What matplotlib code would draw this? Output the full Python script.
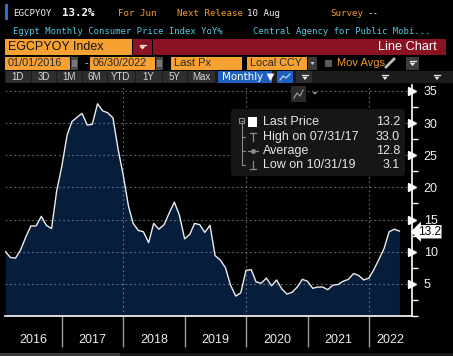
import matplotlib
matplotlib.use('Agg')
import matplotlib.pyplot as plt
import pandas as pd
from matplotlib.patches import Rectangle, Polygon, FancyBboxPatch
from matplotlib.transforms import blended_transform_factory

# ---------------- data ----------------
dates = pd.date_range('2016-01-31', '2022-06-30', freq='ME')
values = [
    10.0, 9.1, 9.0, 10.3, 12.3, 14.0, 14.0, 15.5, 14.1, 13.6, 19.4, 23.3,   # 2016
    28.1, 30.2, 30.9, 31.5, 29.7, 29.8, 33.0, 31.9, 31.6, 30.8, 26.0, 21.9, # 2017
    17.1, 14.4, 13.3, 13.1, 11.4, 14.4, 13.5, 14.2, 16.0, 17.7, 15.7, 12.0, # 2018
    12.7, 14.4, 14.2, 13.0, 14.1, 9.4, 8.7, 7.5, 4.8, 3.1, 3.6, 7.1,       # 2019
    7.2, 5.3, 5.1, 5.9, 4.7, 5.6, 4.2, 3.4, 3.7, 4.5, 5.7, 5.4,            # 2020
    4.3, 4.5, 4.5, 4.1, 4.8, 4.9, 5.4, 5.7, 6.6, 6.3, 5.6, 5.9,            # 2021
    7.3, 8.8, 10.5, 13.1, 13.5, 13.2,                                      # 2022
]
year_labels = ['2016', '2017', '2018', '2019', '2020', '2021', '2022']
y_ticks = [5, 10, 15, 20, 25, 30, 35]
legend_labels = ['Last Price', 'High on 07/31/17', 'Average', 'Low on 10/31/19']
legend_values = ['13.2', '33.0', '12.8', '3.1']

W, H = 453, 356
fig = plt.figure(figsize=(W / 100, H / 100), dpi=100, facecolor='black')

# ---------------- chart axes ----------------
L_PX, R_PX, T_PX, B_PX = 5, 412, 84.5, 316
ax = fig.add_axes([L_PX / W, (H - B_PX) / H, (R_PX - L_PX) / W, (B_PX - T_PX) / H])
ax.set_facecolor('black')
xmin = pd.Timestamp('2016-01-28')
xmax = pd.Timestamp('2022-09-13')
ax.set_xlim(xmin, xmax)
ax.set_ylim(0, 36)

navy = '#061e3c'
ax.fill_between(dates, values, 0, color=navy, lw=0, zorder=2)
ax.plot(dates, values, color='#ececec', lw=1.0, zorder=4)

grid_kw = dict(color='#a0a8b4', lw=0.8, dashes=(1.6, 2.4), alpha=0.6, zorder=3)
for yv in y_ticks:
    ax.axhline(yv, **grid_kw)
for yr in ['2018-01-01', '2020-01-01', '2022-01-01']:
    ax.axvline(pd.Timestamp(yr), **grid_kw)

for s in ['top', 'left']:
    ax.spines[s].set_visible(False)
ax.spines['bottom'].set_color('white')
ax.spines['bottom'].set_linewidth(1.2)
ax.spines['right'].set_color('white')
ax.spines['right'].set_linewidth(1.2)

# x ticks: year separators below axis
year_starts = [pd.Timestamp(f'{y}-01-01') for y in range(2017, 2023)]
ax.set_xticks(year_starts)
ax.set_xticklabels([])
ax.tick_params(axis='x', length=22, width=1, color='#9a9a9a', direction='out')
bounds = [xmin] + year_starts + [xmax]
trx = blended_transform_factory(ax.transData, ax.transAxes)
for i, lab in enumerate(year_labels):
    mid = bounds[i] + (bounds[i + 1] - bounds[i]) / 2
    ax.text(mid, -0.103, lab, transform=trx, ha='center', va='center',
            color='#e8ecf2', fontsize=9, family='Liberation Sans')

# y axis on right
ax.yaxis.tick_right()
ax.set_yticks(y_ticks)
ax.set_yticklabels([str(t) for t in y_ticks], color='#eef2f8', fontsize=9,
                   family='Liberation Sans')
ax.tick_params(axis='y', which='major', length=0, pad=8.5)
ax.set_yticks([0, 2.5, 7.5, 12.5, 17.5, 22.5, 27.5, 32.5], minor=True)
ax.tick_params(axis='y', which='minor', length=4, width=1, color='white', direction='out')
try_ = blended_transform_factory(ax.transAxes, ax.transData)
ax.plot([1.0] * len(y_ticks), y_ticks, transform=try_, ls='none', marker='>',
        ms=6, color='white', mec='white', clip_on=False, zorder=6)

# last value tag
ax.text(1.014, values[-1] - 0.1, '13.2', transform=try_, ha='left', va='center',
        fontsize=8.6, color='black', family='Liberation Sans',
        bbox=dict(boxstyle='larrow,pad=0.06', fc='white', ec='none'), zorder=7)

# ---------------- overlay for header / legend ----------------
ov = fig.add_axes([0, 0, 1, 1], zorder=10)
ov.set_xlim(0, W)
ov.set_ylim(H, 0)
ov.axis('off')
ov.patch.set_alpha(0)


def rect(x0, y0, x1, y1, c, **kw):
    ov.add_patch(Rectangle((x0, y0), x1 - x0, y1 - y0, fc=c, ec='none', **kw))


def dropdown(cx, cy, c='#e6e6e6', s=3.0):
    ov.plot([cx - s, cx + s], [cy - 2.2, cy - 2.2], color=c, lw=0.9)
    ov.add_patch(Polygon([(cx - s, cy - 0.8), (cx + s, cy - 0.8), (cx, cy + 2.6)],
                         closed=True, fc=c, ec='none'))


mono = 'DejaVu Sans Mono'
sans = 'Liberation Sans'
orange_t = '#f59a2a'
cyan_t = '#55cbe0'
mfs = 6.4

# row 1
rect(5, 4, 8, 20, '#2a6fd6')
ov.text(13, 14, 'EGCPYOY', color='#f0f0f0', fontsize=mfs + 0.2, family=mono, va='center')
ov.text(62, 13.5, '13.2%', color='#ffffff', fontsize=7.8, family=mono,
        weight='bold', va='center')
ov.text(118, 14, 'For Jun', color=orange_t, fontsize=mfs + 0.2, family=mono, va='center')
ov.text(177, 14, 'Next Release', color=orange_t, fontsize=mfs + 0.2, family=mono, va='center')
ov.text(247, 14, '10 Aug', color='#f0f0f0', fontsize=mfs + 0.2, family=mono, va='center')
ov.text(330, 14, 'Survey', color=orange_t, fontsize=mfs + 0.2, family=mono, va='center')
ov.text(367, 14, '--', color='#f0f0f0', fontsize=mfs + 0.2, family=mono, va='center')
# row 2
ov.text(13, 31, 'Egypt Monthly Consumer Price Index YoY%', color=cyan_t,
        fontsize=mfs, family=mono, va='center')
ov.text(253, 31, 'Central Agency for Public Mobi...', color=cyan_t,
        fontsize=mfs, family=mono, va='center')

# row 3
orange_b = '#f8a133'
red_b = '#8a1222'
rect(5, 39, 132, 55, orange_b)
ov.text(8, 47.5, 'EGCPYOY Index', color='#111111', fontsize=9, family=sans, va='center')
rect(133, 39, 152, 55, red_b)
dropdown(142.5, 47)
rect(153, 39, 446, 55, red_b)
ov.text(437, 47.5, 'Line Chart', color='#ffffff', fontsize=9.2, family=sans,
        va='center', ha='right')

# row 4
rect(5, 57, 70, 69.5, orange_b)
ov.text(8, 63.5, '01/01/2016', color='#2a2a2a', fontsize=7.8, family=sans, va='center')
rect(70.5, 57, 78, 69.5, '#4a4a4a')
rect(72, 60, 76.5, 67, '#777777')
ov.text(86, 63, '-', color='#e0e0e0', fontsize=8, family=sans, va='center', ha='center')
rect(90, 57, 155, 69.5, orange_b)
ov.text(93, 63.5, '06/30/2022', color='#2a2a2a', fontsize=7.8, family=sans, va='center')
rect(155.5, 57, 163, 69.5, '#4a4a4a')
rect(157, 60, 161.5, 67, '#777777')
rect(171, 57, 242, 69.5, orange_b)
ov.text(174, 63.5, 'Last Px', color='#2a2a2a', fontsize=8, family=sans, va='center')
rect(247, 57, 307, 69.5, orange_b)
ov.text(250, 63.5, 'Local CCY', color='#2a2a2a', fontsize=7.8, family=sans, va='center')
rect(308, 57, 317, 69.5, '#3c3c3c')
ov.add_patch(Polygon([(310.5, 62), (314.5, 62), (312.5, 65)], fc='#cfcfcf', ec='none'))
rect(325, 59.5, 332, 66.5, '#5a5a5a')
ov.text(337, 63.5, 'Mov Avgs', color=orange_t, fontsize=8, family=sans, va='center')
ov.plot([386, 394], [67, 59], color='#bdbdbd', lw=2)
rect(406, 57, 419, 69.5, '#3c3c3c')
dropdown(412.5, 63.5)

# row 5
rect(5, 71, 453, 83, '#1c1c1c')
btn_edges = [5, 31, 56, 82, 107, 135, 162, 187, 215]
btn_labels = ['1D', '3D', '1M', '6M', 'YTD', '1Y', '5Y', 'Max']
for i, lab in enumerate(btn_labels):
    x0, x1 = btn_edges[i], btn_edges[i + 1]
    rect(x0 + 0.5, 71, x1 - 0.5, 83, '#2e2e2e')
    ov.text((x0 + x1) / 2, 77.3, lab, color='#d6d6d6', fontsize=7, family=sans,
            va='center', ha='center')
rect(218, 71, 272, 83, '#1e5fbf')
ov.text(222, 77.3, 'Monthly \u25BC', color='#ffffff', fontsize=7.4, family='DejaVu Sans',
        va='center')
rect(277, 71, 293, 83, '#1e5fbf')
ov.plot([280, 283, 286, 290], [80, 76, 78, 74], color='#d0e0ff', lw=0.8)
rect(296, 71, 312, 83, '#2e2e2e')
dropdown(305, 77.5, s=2.6)
dropdown(385, 77.5, s=2.6)
dropdown(437, 77.5, s=2.6)

# chart icon
rect(291, 86, 306, 102, '#2a2a2a')
ov.plot([294, 297, 300, 303], [98, 93, 96, 90], color='#9a9a9a', lw=0.9)
ov.add_patch(Polygon([(312.5, 92), (317.5, 92), (315, 95)], fc='#8a8a8a', ec='none'))

# legend box
ov.add_patch(FancyBboxPatch((231, 109), 174, 67, boxstyle='round,pad=0,rounding_size=3',
                            fc='#161616', ec='none'))
leg_y = [122, 137, 151, 165]
gc = '#8c8c8c'
ov.add_patch(Rectangle((239, 118), 5, 5, fc='none', ec=gc, lw=0.8))
ov.plot([240.5, 242.5], [120.5, 120.5], color=gc, lw=0.7)
ov.plot([241.5, 241.5], [123, 165], color=gc, lw=0.8)
for yy in leg_y[1:]:
    ov.plot([241.5, 245], [yy, yy], color=gc, lw=0.8)
rect(248, 117, 257, 126.5, '#ffffff')
ov.plot([252.5, 252.5], [133, 141], color=gc, lw=0.9)
ov.plot([249.5, 255.5], [133, 133], color=gc, lw=0.9)
ov.plot([247.5, 257.5], [151, 151], color=gc, lw=0.9)
ov.plot([252.5], [151], marker='o', ms=2.5, color=gc)
ov.plot([252.5, 252.5], [161, 169], color=gc, lw=0.9)
ov.plot([249.5, 255.5], [169, 169], color=gc, lw=0.9)
for yy, lab, val in zip(leg_y, legend_labels, legend_values):
    ov.text(263, yy, lab, color='#e6e6e6', fontsize=9, family=sans, va='center')
    ov.text(400, yy, val, color='#e6e6e6', fontsize=9, family=sans, va='center', ha='right')

# bottom strip
rect(0, 353, 120, 356, '#3a3a3a')
rect(120, 353, 453, 356, '#1a1a1a')

fig.savefig('out.png', dpi=100, facecolor='black')
